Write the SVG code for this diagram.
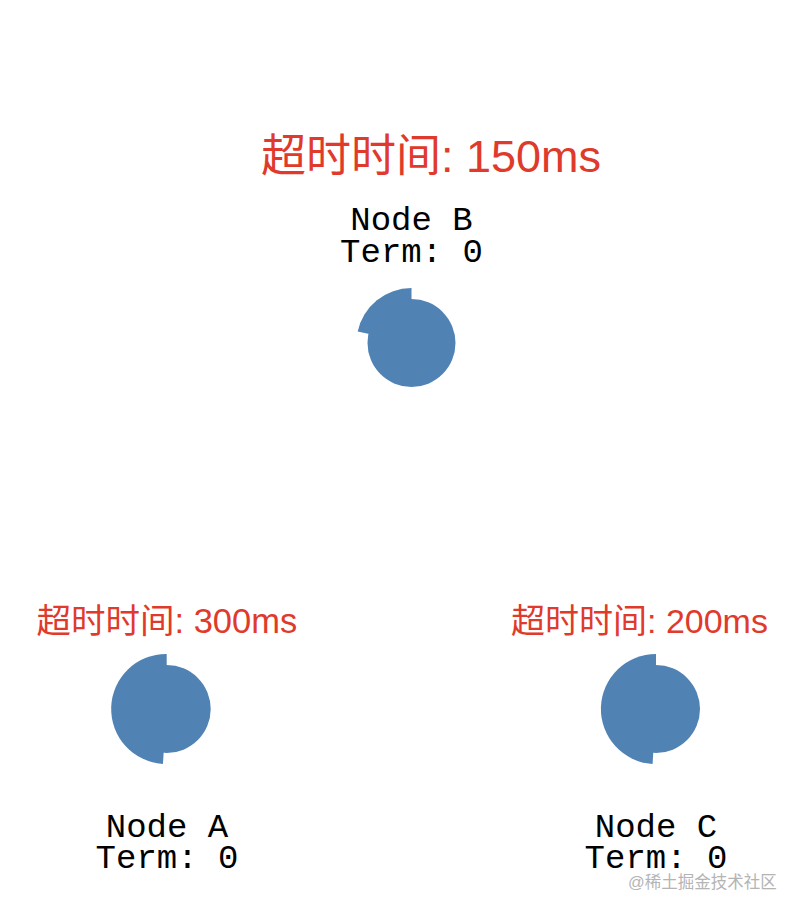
<svg xmlns="http://www.w3.org/2000/svg" width="802" height="914" viewBox="0 0 802 914">
<style>
.timeout{fill:#df3a2b;font-family:"Liberation Sans","Noto Sans CJK SC",sans-serif;}
.lbl{fill:#000;font-family:"Liberation Mono",monospace;font-size:34px;text-anchor:middle;}
.node{fill:#5082b4;}
.wm{fill:#b4b4b4;font-family:"Liberation Sans","Noto Sans CJK SC",sans-serif;font-size:16.5px;}
</style>
<rect width="802" height="914" fill="#fff"/>
<g id="connectors"></g>
<g id="nodeB">
<text class="timeout" x="261" y="172" font-size="45">超时时间: 150ms</text>
<text class="lbl" x="411.5" y="230">Node B</text>
<text class="lbl" x="411.5" y="262">Term: 0</text>
<path class="node" d="M411.5,343 L411.5,288 A55,55 0 0 0 357.7,331.6 Z"/>
<circle class="node" cx="411.5" cy="343" r="44"/>
</g>
<g id="nodeA">
<text class="timeout" x="36.5" y="633" font-size="34.5">超时时间: 300ms</text>
<path class="node" d="M166.7,709 L166.7,654 A55,55 0 0 0 162.9,763.9 Z"/>
<circle class="node" cx="166.7" cy="709" r="44"/>
<text class="lbl" x="167" y="837">Node A</text>
<text class="lbl" x="167" y="868">Term: 0</text>
</g>
<g id="nodeC">
<text class="timeout" x="511" y="633" font-size="34">超时时间: 200ms</text>
<path class="node" d="M656,709 L656,654 A55,55 0 0 0 652.6,763.9 Z"/>
<circle class="node" cx="656" cy="709" r="44"/>
<text class="lbl" x="656" y="837">Node C</text>
<text class="lbl" x="656" y="868">Term: 0</text>
</g>
<text class="wm" x="628" y="888">@稀土掘金技术社区</text>
</svg>
